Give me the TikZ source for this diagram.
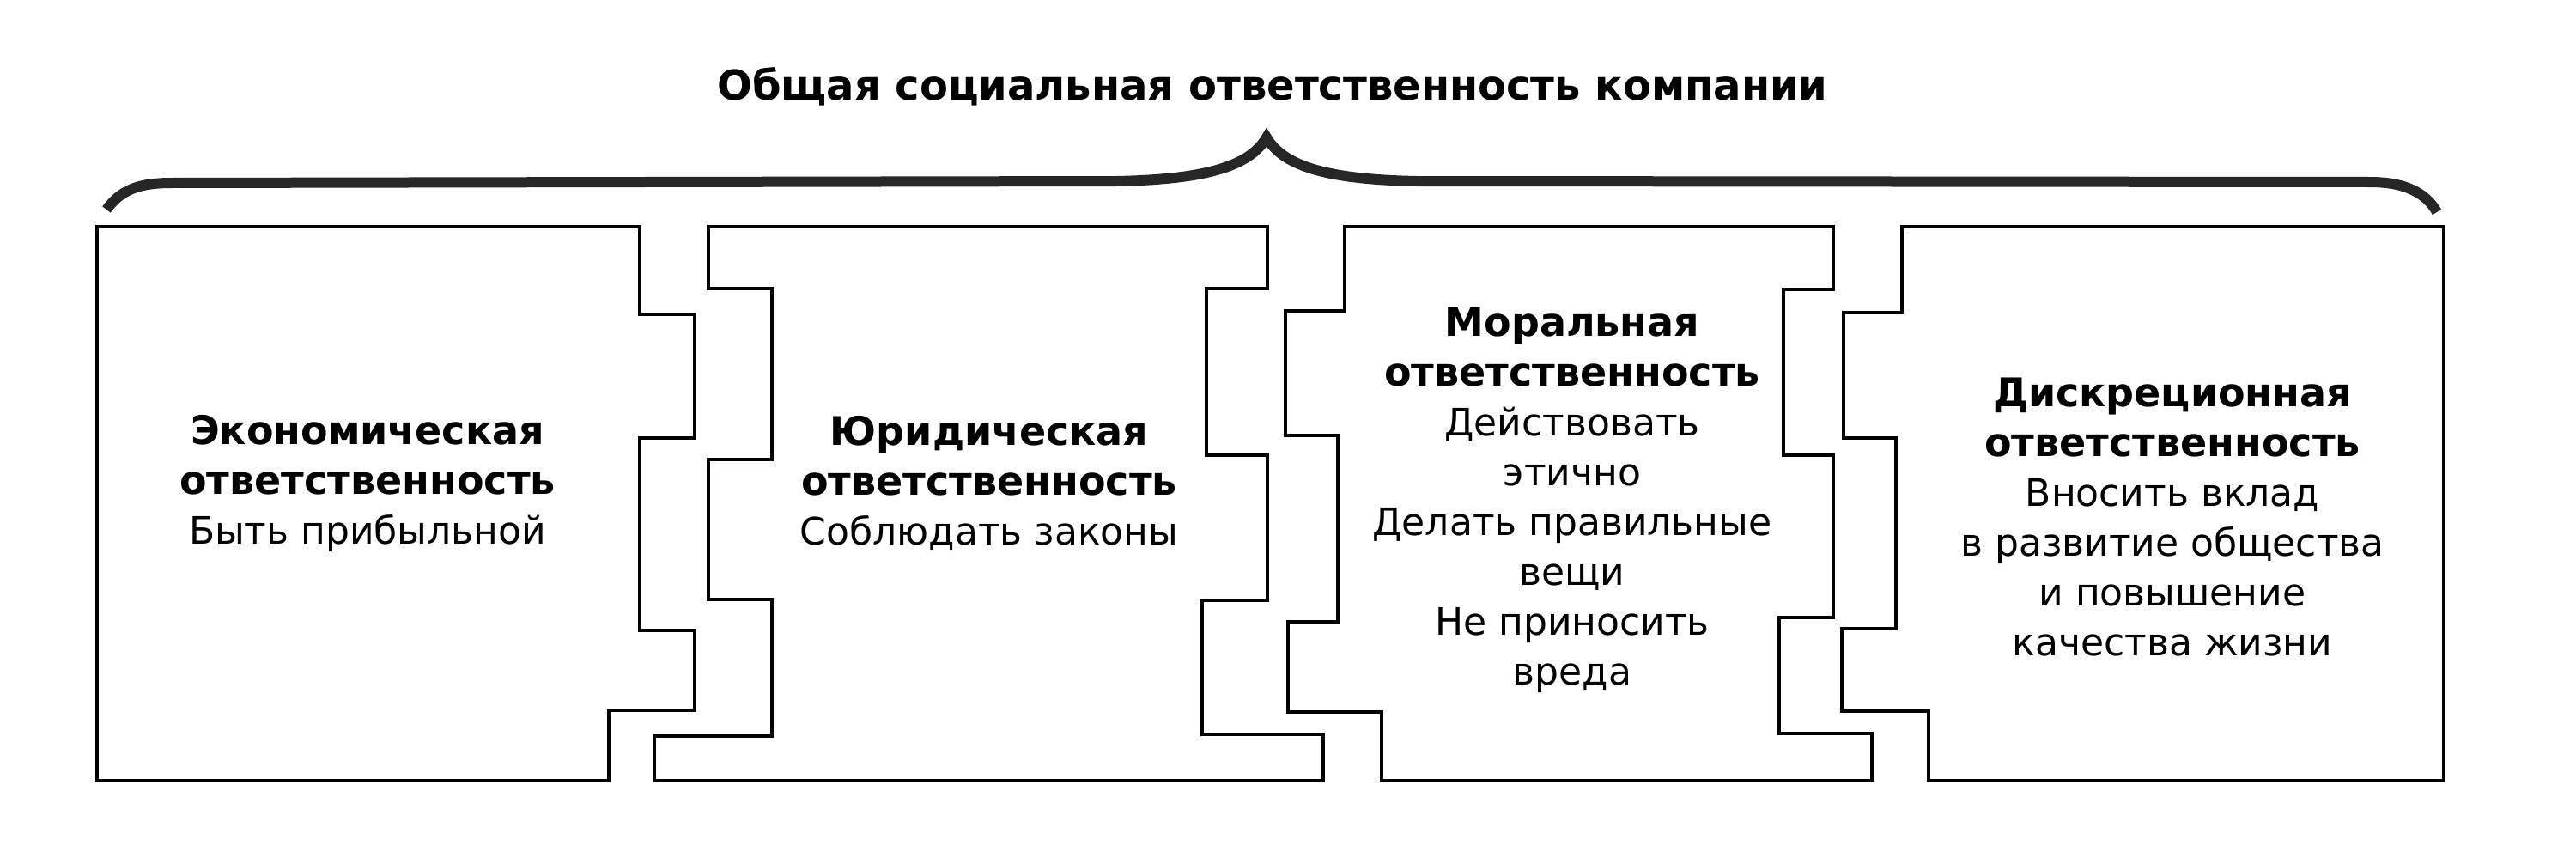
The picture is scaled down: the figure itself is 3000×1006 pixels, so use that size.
\documentclass[tikz,border=0pt]{standalone}
\usepackage{fontspec}
\setmainfont{DejaVu Sans}
\newcommand{\hdline}[1]{{\fontsize{11.5}{14.5}\selectfont\bfseries #1}}
\begin{document}
\begin{tikzpicture}[x=0.25pt,y=-0.25pt,
  piece/.style={draw=black, line width=0.8pt, line join=miter},
  bodytext/.style={align=center, inner sep=0pt, font=\fontsize{11}{14.5}\selectfont},
  titletext/.style={inner sep=0pt, font=\fontsize{12}{14.5}\selectfont\bfseries},
  bracestyle/.style={draw=black!85, line width=3pt, line join=miter, miter limit=10}]
\useasboundingbox[fill=white] (0,0) rectangle (3000,1006);

% title
\node[titletext, anchor=base] (title) at (1482,116) {Общая социальная ответственность компании};

% brace
\draw[bracestyle] (124,244) .. controls (140,222) and (160,213) .. (200,213)
  -- (1300,211) .. controls (1400,209) and (1455,195) .. (1475,160)
  .. controls (1495,195) and (1550,209) .. (1650,211)
  -- (2760,212) .. controls (2800,212) and (2825,224) .. (2838,247);

% piece 1: economic
\draw[piece] (113,264) -- (745,264) -- (745,366) -- (809,366) -- (809,510)
  -- (745,510) -- (745,734) -- (809,734) -- (809,827) -- (709,827)
  -- (709,909) -- (113,909) -- cycle;

% piece 2: legal
\draw[piece] (825,264) -- (1476,264) -- (1476,336) -- (1405,336) -- (1405,530)
  -- (1476,530) -- (1476,699) -- (1400,699) -- (1400,855) -- (1541,855)
  -- (1541,909) -- (762,909) -- (762,857) -- (899,857) -- (899,698)
  -- (825,698) -- (825,535) -- (899,535) -- (899,336) -- (825,336) -- cycle;

% piece 3: moral
\draw[piece] (1566,264) -- (2135,264) -- (2135,337) -- (2077,337) -- (2077,530)
  -- (2135,530) -- (2135,719) -- (2072,719) -- (2072,854) -- (2180,854)
  -- (2180,909) -- (1609,909) -- (1609,829) -- (1500,829) -- (1500,724)
  -- (1558,724) -- (1558,507) -- (1497,507) -- (1497,362) -- (1566,362) -- cycle;

% piece 4: discretionary
\draw[piece] (2215,264) -- (2846,264) -- (2846,909) -- (2246,909) -- (2246,828)
  -- (2145,828) -- (2145,732) -- (2208,732) -- (2208,510) -- (2147,510)
  -- (2147,364) -- (2215,364) -- cycle;

% texts
\node[bodytext] (econ) at (428,563) {\hdline{Экономическая}\\\hdline{ответственность}\\Быть прибыльной};
\node[bodytext] (legal) at (1152,562) {\hdline{Юридическая}\\\hdline{ответственность}\\Соблюдать законы};
\node[bodytext] (moral) at (1831,582) {\hdline{Моральная}\\\hdline{ответственность}\\Действовать\\этично\\Делать правильные\\вещи\\Не приносить\\вреда};
\node[bodytext] (discr) at (2530,602) {\hdline{Дискреционная}\\\hdline{ответственность}\\Вносить вклад\\в развитие общества\\и повышение\\качества жизни};
\end{tikzpicture}
\end{document}
